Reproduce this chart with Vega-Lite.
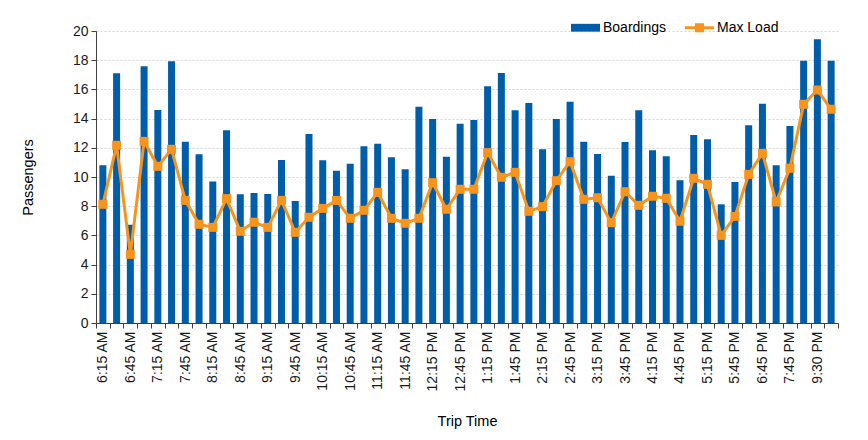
{
  "$schema": "https://vega.github.io/schema/vega-lite/v6.json",
  "width": 742,
  "height": 292,
  "autosize": "none",
  "padding": {"left": 96, "top": 31, "right": 30, "bottom": 117},
  "background": "white",
  "data": {"values": [
    {"t": "6:15 AM", "b": 10.8, "m": 8.13},
    {"t": "6:30 AM", "b": 17.1, "m": 12.17},
    {"t": "6:45 AM", "b": 6.73, "m": 4.7},
    {"t": "7:00 AM", "b": 17.58, "m": 12.44},
    {"t": "7:15 AM", "b": 14.59, "m": 10.73},
    {"t": "7:30 AM", "b": 17.92, "m": 11.9},
    {"t": "7:45 AM", "b": 12.42, "m": 8.4},
    {"t": "8:00 AM", "b": 11.55, "m": 6.76},
    {"t": "8:15 AM", "b": 9.7, "m": 6.55},
    {"t": "8:30 AM", "b": 13.2, "m": 8.52},
    {"t": "8:45 AM", "b": 8.81, "m": 6.28},
    {"t": "9:00 AM", "b": 8.9, "m": 6.9},
    {"t": "9:15 AM", "b": 8.84, "m": 6.55},
    {"t": "9:30 AM", "b": 11.16, "m": 8.4},
    {"t": "9:45 AM", "b": 8.36, "m": 6.21},
    {"t": "10:00 AM", "b": 12.95, "m": 7.24},
    {"t": "10:15 AM", "b": 11.14, "m": 7.85},
    {"t": "10:30 AM", "b": 10.43, "m": 8.4},
    {"t": "10:45 AM", "b": 10.91, "m": 7.17},
    {"t": "11:00 AM", "b": 12.1, "m": 7.72},
    {"t": "11:15 AM", "b": 12.28, "m": 8.95},
    {"t": "11:30 AM", "b": 11.35, "m": 7.17},
    {"t": "11:45 AM", "b": 10.53, "m": 6.83},
    {"t": "12:00 PM", "b": 14.82, "m": 7.17},
    {"t": "12:15 PM", "b": 13.97, "m": 9.61},
    {"t": "12:30 PM", "b": 11.39, "m": 7.79},
    {"t": "12:45 PM", "b": 13.65, "m": 9.16},
    {"t": "1:00 PM", "b": 13.9, "m": 9.16},
    {"t": "1:15 PM", "b": 16.21, "m": 11.67},
    {"t": "1:30 PM", "b": 17.12, "m": 9.98},
    {"t": "1:45 PM", "b": 14.57, "m": 10.32},
    {"t": "2:00 PM", "b": 15.07, "m": 7.65},
    {"t": "2:15 PM", "b": 11.9, "m": 7.97},
    {"t": "2:30 PM", "b": 13.97, "m": 9.75},
    {"t": "2:45 PM", "b": 15.16, "m": 11.05},
    {"t": "3:00 PM", "b": 12.42, "m": 8.47},
    {"t": "3:15 PM", "b": 11.58, "m": 8.58},
    {"t": "3:30 PM", "b": 10.09, "m": 6.87},
    {"t": "3:45 PM", "b": 12.4, "m": 8.99},
    {"t": "4:00 PM", "b": 14.57, "m": 8.06},
    {"t": "4:15 PM", "b": 11.83, "m": 8.68},
    {"t": "4:30 PM", "b": 11.42, "m": 8.54},
    {"t": "4:45 PM", "b": 9.77, "m": 6.97},
    {"t": "5:00 PM", "b": 12.88, "m": 9.91},
    {"t": "5:15 PM", "b": 12.58, "m": 9.5},
    {"t": "5:30 PM", "b": 8.13, "m": 6.0},
    {"t": "5:45 PM", "b": 9.66, "m": 7.3},
    {"t": "6:15 PM", "b": 13.54, "m": 10.18},
    {"t": "6:45 PM", "b": 15.02, "m": 11.62},
    {"t": "7:15 PM", "b": 10.8, "m": 8.29},
    {"t": "7:45 PM", "b": 13.49, "m": 10.6},
    {"t": "8:30 PM", "b": 17.97, "m": 14.98},
    {"t": "9:30 PM", "b": 19.43, "m": 15.96},
    {"t": "10:30 PM", "b": 17.97, "m": 14.64}
  ]},
  "config": {
    "font": "Liberation Sans",
    "view": {"stroke": null},
    "axis": {
      "labelFont": "Liberation Sans",
      "titleFont": "Liberation Sans",
      "labelColor": "#1a1a1a",
      "titleColor": "#000000",
      "titleFontWeight": "normal",
      "domainColor": "#404040",
      "tickColor": "#404040",
      "tickSize": 5
    },
    "axisY": {
      "values": [0, 2, 4, 6, 8, 10, 12, 14, 16, 18, 20],
      "labelOverlap": false,
      "labelFlush": false,
      "labelFontSize": 14,
      "labelPadding": 3,
      "titleFontSize": 14.5,
      "titlePadding": 37,
      "grid": true,
      "gridDash": [2, 2],
      "gridColor": "#d4d4d4"
    }
  },
  "layer": [
    {
      "mark": {"type": "bar", "width": {"band": 0.51}},
      "encoding": {
        "x": {
          "field": "t", "type": "ordinal", "sort": null,
          "scale": {"paddingInner": 0, "paddingOuter": 0},
          "axis": {
            "title": "Trip Time",
            "titleFontSize": 14.5,
            "titlePadding": 24,
            "labelAngle": -90,
            "labelAlign": "right",
            "labelBaseline": "middle",
            "labelFontSize": 14,
            "labelPadding": 3,
            "labelOverlap": false,
            "tickBand": "extent",
            "labelExpr": "indexof(['6:15 AM','6:45 AM','7:15 AM','7:45 AM','8:15 AM','8:45 AM','9:15 AM','9:45 AM','10:15 AM','10:45 AM','11:15 AM','11:45 AM','12:15 PM','12:45 PM','1:15 PM','1:45 PM','2:15 PM','2:45 PM','3:15 PM','3:45 PM','4:15 PM','4:45 PM','5:15 PM','5:45 PM','6:45 PM','7:45 PM','9:30 PM'], datum.value) >= 0 ? datum.label : ''",
            "grid": false
          }
        },
        "y": {
          "field": "b", "type": "quantitative",
          "scale": {"domain": [0, 20], "nice": false},
          "axis": {"title": "Passengers", "values": [0, 2, 4, 6, 8, 10, 12, 14, 16, 18, 20], "labelOverlap": false}
        },
        "color": {
          "datum": "Boardings",
          "scale": {"domain": ["Boardings", "Max Load"], "range": ["#005DAA", "#F7941E"]},
          "legend": {
            "title": null,
            "orient": "none",
            "legendX": 475,
            "legendY": -18,
            "direction": "horizontal",
            "padding": 0,
            "labelFont": "Liberation Sans",
            "labelFontSize": 14,
            "labelColor": "#000000",
            "labelOffset": 3,
            "columnPadding": 18,
            "symbolSize": 841,
            "symbolStrokeWidth": 0,
            "encode": {
              "symbols": {
                "update": {
                  "shape": {"signal": "datum.value === 'Boardings' ? 'M-1,-0.27H1V0.27H-1Z' : 'M-1,-0.1H1V0.1H-1Z M-0.31,-0.31H0.31V0.31H-0.31Z'"},
                  "fill": {"signal": "datum.value === 'Boardings' ? '#005DAA' : '#F7941E'"},
                  "stroke": {"value": "transparent"},
                  "opacity": {"value": 1}
                }
              }
            }
          }
        }
      }
    },
    {
      "mark": {"type": "line", "strokeWidth": 3, "point": {"shape": "square", "size": 81, "filled": true}},
      "encoding": {
        "x": {"field": "t", "type": "ordinal", "sort": null},
        "y": {
          "field": "m", "type": "quantitative",
          "axis": {"title": "Passengers", "values": [0, 2, 4, 6, 8, 10, 12, 14, 16, 18, 20], "labelOverlap": false}
        },
        "color": {"datum": "Max Load"}
      }
    }
  ]
}
